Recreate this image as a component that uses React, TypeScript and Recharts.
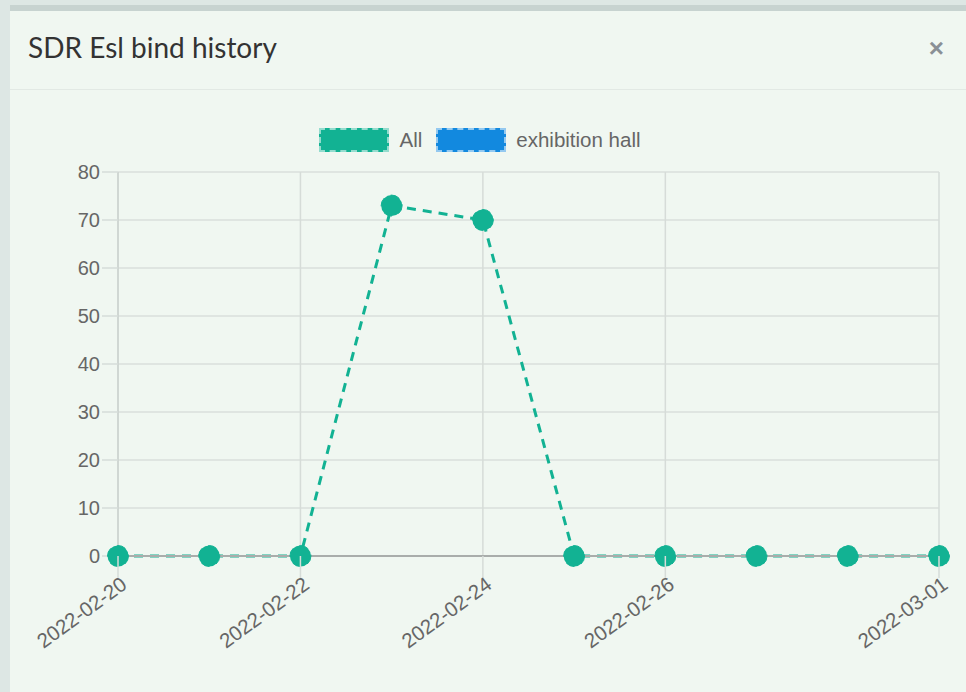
import React from 'react';
import { LineChart, Line, XAxis, YAxis, CartesianGrid, ReferenceLine } from 'recharts';

const dates = ['2022-02-20','2022-02-21','2022-02-22','2022-02-23','2022-02-24','2022-02-25','2022-02-26','2022-02-27','2022-02-28','2022-03-01'];
const allValues = [0, 0, 0, 73, 70, 0, 0, 0, 0, 0];
const hallValues: (number | null)[] = [null, null, null, null, null, null, null, null, null, null];
const yTicks = [0, 10, 20, 30, 40, 50, 60, 70, 80];
const labeledDates = ['2022-02-20','2022-02-22','2022-02-24','2022-02-26','2022-03-01'];

const data = dates.map((d, i) => ({ date: d, all: allValues[i], hall: hallValues[i] }));

const GREEN = '#12b293';
const BLUE = '#1289df';
const FONT = '"Liberation Sans", Arial, Helvetica, sans-serif';

const XTick = (props: any) => {
  const { x, y, payload } = props;
  if (!labeledDates.includes(payload.value)) return null;
  return (
    <g>
      <line x1={x} x2={x} y1={y - 24} y2={y - 2} stroke="#d6dcd8" strokeWidth={1.5} />
      <text x={x} y={y} transform={`rotate(-36, ${x}, ${y})`} textAnchor="end" dy={12} dx={4}
        fill="#666" fontSize={20.5} fontFamily={FONT}>{payload.value}</text>
    </g>
  );
};

const LegendBox = ({ color, label }: { color: string; label: string }) => (
  <span style={{ display: 'inline-flex', alignItems: 'center', marginRight: 14 }}>
    <span style={{ display: 'inline-block', width: 70, height: 24, background: color, border: `2px dashed rgba(255,255,255,0.55)`, boxSizing: 'border-box', marginRight: 10 }} />
    <span style={{ color: '#666', fontSize: 20.5, fontFamily: FONT }}>{label}</span>
  </span>
);

export default function App() {
  return (
    <div style={{ position: 'absolute', left: 0, top: 0, width: 966, height: 692, background: '#dde7e4', overflow: 'hidden' }}>
      <div style={{ position: 'absolute', left: 10, top: 5, width: 956, height: 687, background: '#f0f7f1', borderTop: '6px solid #c7d3d0', boxSizing: 'border-box' }}>
        <div style={{ position: 'absolute', left: 18, top: 19, fontFamily: 'Lato, "Open Sans", sans-serif', fontSize: 28, color: '#333' }}>SDR Esl bind history</div>
        <div style={{ position: 'absolute', right: 22, top: 22, fontFamily: FONT, fontSize: 26, fontWeight: 'bold', color: '#8a9096' }}>×</div>
        <div style={{ position: 'absolute', left: 0, right: 0, top: 78, height: 1, background: '#e2e9e4' }} />
      </div>
      <div style={{ position: 'absolute', left: 0, top: 0 }}>
        <LineChart width={966} height={692} data={data} margin={{ top: 172, right: 27, bottom: 56, left: 58 }}>
          <CartesianGrid vertical={false} stroke="#dadfdb" strokeWidth={1.5} />
          {labeledDates.map(d => (
            <ReferenceLine key={d} x={d} stroke="#d6dcd8" strokeWidth={1.5} />
          ))}
          <XAxis dataKey="date" interval={0} height={80} tick={<XTick />} tickSize={22}
            axisLine={{ stroke: '#a9adab', strokeWidth: 2 }}
            tickLine={false} />
          <YAxis domain={[0, 80]} ticks={yTicks} width={60} tickSize={16} tickMargin={2}
            axisLine={{ stroke: '#cdd3cf', strokeWidth: 1.5 }} tickLine={{ stroke: '#d6dcd8', strokeWidth: 1.5 }}
            tick={{ fill: '#666', fontSize: 20, fontFamily: FONT }} interval={0} />
          <Line dataKey="hall" stroke={BLUE} strokeWidth={3} strokeDasharray="8 6" dot={{ r: 10, fill: BLUE, stroke: BLUE }} isAnimationActive={false} connectNulls={false} />
          <Line dataKey="all" stroke={GREEN} strokeWidth={3} strokeDasharray="9 7" dot={{ r: 10.5, fill: GREEN, stroke: GREEN, strokeWidth: 1 }} activeDot={false} isAnimationActive={false} />
        </LineChart>
      </div>
      <div style={{ position: 'absolute', left: 0, top: 128, width: 966, display: 'flex', justifyContent: 'center', paddingLeft: 4 }}>
        <LegendBox color={GREEN} label="All" />
        <LegendBox color={BLUE} label="exhibition hall" />
      </div>
    </div>
  );
}
